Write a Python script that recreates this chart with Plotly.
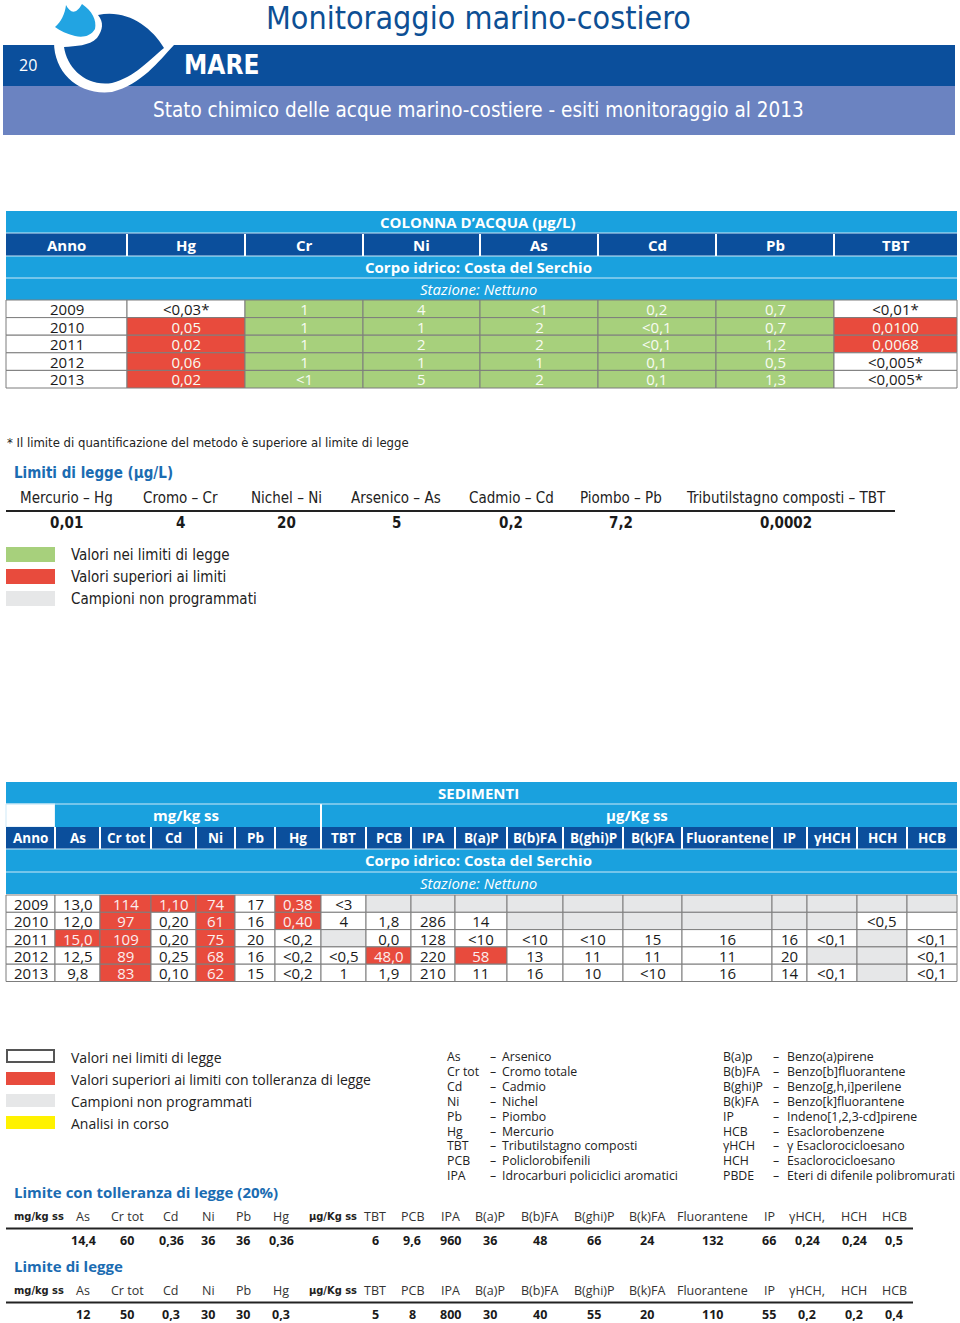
import plotly.graph_objects as go

# ---------------- DATA ----------------
page_number = "20"
page_title = "Monitoraggio marino-costiero"
section_name = "MARE"
subtitle = "Stato chimico delle acque marino-costiere - esiti monitoraggio al 2013"

years = ["2009", "2010", "2011", "2012", "2013"]

# Colonna d'acqua (µg/L)
water_params = ["Hg", "Cr", "Ni", "As", "Cd", "Pb", "TBT"]
water_Hg = ["<0,03*", "0,05", "0,02", "0,06", "0,02"]
water_Cr = ["1", "1", "1", "1", "<1"]
water_Ni = ["4", "1", "2", "1", "5"]
water_As = ["<1", "2", "2", "1", "2"]
water_Cd = ["0,2", "<0,1", "<0,1", "0,1", "0,1"]
water_Pb = ["0,7", "0,7", "1,2", "0,5", "1,3"]
water_TBT = ["<0,01*", "0,0100", "0,0068", "<0,005*", "<0,005*"]
# status: g = within limits, r = above limits, w = LOQ above limit (white)
water_Hg_status = ["w", "r", "r", "r", "r"]
water_Cr_status = ["g", "g", "g", "g", "g"]
water_Ni_status = ["g", "g", "g", "g", "g"]
water_As_status = ["g", "g", "g", "g", "g"]
water_Cd_status = ["g", "g", "g", "g", "g"]
water_Pb_status = ["g", "g", "g", "g", "g"]
water_TBT_status = ["w", "r", "r", "w", "w"]

water_limit_names = ["Mercurio – Hg", "Cromo – Cr", "Nichel – Ni", "Arsenico – As",
                     "Cadmio – Cd", "Piombo – Pb", "Tributilstagno composti – TBT"]
water_limit_values = ["0,01", "4", "20", "5", "0,2", "7,2", "0,0002"]

# Sedimenti
sed_params = ["As", "Cr tot", "Cd", "Ni", "Pb", "Hg", "TBT", "PCB", "IPA", "B(a)P", "B(b)FA",
              "B(ghi)P", "B(k)FA", "Fluorantene", "IP", "γHCH", "HCH", "HCB"]
sed_As = ["13,0", "12,0", "15,0", "12,5", "9,8"]
sed_Crtot = ["114", "97", "109", "89", "83"]
sed_Cd = ["1,10", "0,20", "0,20", "0,25", "0,10"]
sed_Ni = ["74", "61", "75", "68", "62"]
sed_Pb = ["17", "16", "20", "16", "15"]
sed_Hg = ["0,38", "0,40", "<0,2", "<0,2", "<0,2"]
sed_TBT = ["<3", "4", "", "<0,5", "1"]
sed_PCB = ["", "1,8", "0,0", "48,0", "1,9"]
sed_IPA = ["", "286", "128", "220", "210"]
sed_BaP = ["", "14", "<10", "58", "11"]
sed_BbFA = ["", "", "<10", "13", "16"]
sed_BghiP = ["", "", "<10", "11", "10"]
sed_BkFA = ["", "", "15", "11", "<10"]
sed_Fluorantene = ["", "", "16", "11", "16"]
sed_IP = ["", "", "16", "20", "14"]
sed_gHCH = ["", "", "<0,1", "", "<0,1"]
sed_HCH = ["", "<0,5", "", "", ""]
sed_HCB = ["", "", "<0,1", "<0,1", "<0,1"]
# status: w = within limits, r = above limits with tolerance, n = not programmed
sed_As_status = ["w", "w", "r", "w", "w"]
sed_Crtot_status = ["r", "r", "r", "r", "r"]
sed_Cd_status = ["r", "w", "w", "w", "w"]
sed_Ni_status = ["r", "r", "r", "r", "r"]
sed_Pb_status = ["w", "w", "w", "w", "w"]
sed_Hg_status = ["r", "r", "w", "w", "w"]
sed_TBT_status = ["w", "w", "n", "w", "w"]
sed_PCB_status = ["n", "w", "w", "r", "w"]
sed_IPA_status = ["n", "w", "w", "w", "w"]
sed_BaP_status = ["n", "w", "w", "r", "w"]
sed_BbFA_status = ["n", "n", "w", "w", "w"]
sed_BghiP_status = ["n", "n", "w", "w", "w"]
sed_BkFA_status = ["n", "n", "w", "w", "w"]
sed_Fluorantene_status = ["n", "n", "w", "w", "w"]
sed_IP_status = ["n", "n", "w", "w", "w"]
sed_gHCH_status = ["n", "n", "w", "n", "w"]
sed_HCH_status = ["n", "w", "n", "n", "n"]
sed_HCB_status = ["n", "w", "w", "w", "w"]

abbr_left = ["As", "Cr tot", "Cd", "Ni", "Pb", "Hg", "TBT", "PCB", "IPA"]
abbr_left_names = ["Arsenico", "Cromo totale", "Cadmio", "Nichel", "Piombo", "Mercurio",
                   "Tributilstagno composti", "Policlorobifenili", "Idrocarburi policiclici aromatici"]
abbr_right = ["B(a)p", "B(b)FA", "B(ghi)P", "B(k)FA", "IP", "HCB", "γHCH", "HCH", "PBDE"]
abbr_right_names = ["Benzo(a)pirene", "Benzo[b]fluorantene", "Benzo[g,h,i]perilene",
                    "Benzo[k]fluorantene", "Indeno[1,2,3-cd]pirene", "Esaclorobenzene",
                    "γ Esaclorocicloesano", "Esaclorocicloesano", "Eteri di difenile polibromurati"]

lim_mg_params = ["As", "Cr tot", "Cd", "Ni", "Pb", "Hg"]
lim_ug_params = ["TBT", "PCB", "IPA", "B(a)P", "B(b)FA", "B(ghi)P", "B(k)FA", "Fluorantene",
                 "IP", "γHCH,", "HCH", "HCB"]
lim_tol_mg = ["14,4", "60", "0,36", "36", "36", "0,36"]
lim_tol_ug = ["6", "9,6", "960", "36", "48", "66", "24", "132", "66", "0,24", "0,24", "0,5"]
lim_mg = ["12", "50", "0,3", "30", "30", "0,3"]
lim_ug = ["5", "8", "800", "30", "40", "55", "20", "110", "55", "0,2", "0,2", "0,4"]

# ---------------- STYLE ----------------
DARK = "#0b4f9c"
PERI = "#6b83c1"
CYAN = "#1aa1de"
GREEN = "#a7d07c"
RED = "#e84b3d"
GRAY = "#e6e7e8"
YELLOW = "#fff200"
TITLEBLUE = "#0d4f94"
SUBBLUE = "#1b6cb2"
BORDER = "#7d7d7d"
TXT = "#1a1a1a"
LIGHT = "#f7fbf2"
OPEN = "Open Sans, sans-serif"
COND = "Liberation Sans Narrow, DejaVu Sans Condensed, Open Sans, sans-serif"

fig = go.Figure()
fig.add_trace(go.Scatter(x=[0, 960], y=[0, 1323], mode="markers",
                         marker=dict(opacity=0), hoverinfo="skip"))
shapes = []
annots = []


def rect(x0, y0, x1, y1, fill, line=None, lw=1):
    shapes.append(dict(type="rect", xref="x", yref="y", x0=x0, y0=y0, x1=x1, y1=y1,
                       fillcolor=fill, line=dict(color=line or fill, width=lw if line else 0),
                       layer="below"))


def hline(x0, x1, y, color, lw):
    shapes.append(dict(type="line", xref="x", yref="y", x0=x0, x1=x1, y0=y, y1=y,
                       line=dict(color=color, width=lw), layer="above"))


def vline(x, y0, y1, color, lw):
    shapes.append(dict(type="line", xref="x", yref="y", x0=x, x1=x, y0=y0, y1=y1,
                       line=dict(color=color, width=lw), layer="above"))


def esc(s):
    return s.replace("<", "&lt;")


def txt(x, y, s, size, color=TXT, family=OPEN, bold=False, italic=False, anchor="center",
        raw=False, align="left"):
    if not raw:
        s = esc(s)
    if bold:
        s = "<b>" + s + "</b>"
    if italic:
        s = "<i>" + s + "</i>"
    annots.append(dict(x=x, y=y, xref="x", yref="y", text=s, showarrow=False,
                       xanchor=anchor, yanchor="middle", borderpad=0, align=align,
                       font=dict(size=size, color=color, family=family)))


def column_block(x, y_mid, values, colors, glyph_size, pitch):
    """One text block per table column: line pitch = pitch, glyph size = glyph_size."""
    lines = []
    for v, c in zip(values, colors):
        content = esc(v) if v else "\u00a0"
        lines.append('<span style="font-size:%spx;color:%s">%s</span>' % (glyph_size, c, content))
    txt(x, y_mid, "<br>".join(lines), pitch / 1.3, TXT, OPEN, raw=True, align="center")


# ---------------- HEADER ----------------
rect(3, 45, 955, 86, DARK)
rect(3, 86, 955, 135, PERI)
# logo
shapes.append(dict(type="path", xref="x", yref="y",
                   path="M 92,10 C 128,2 160,22 174,45 C 158,62 142,84 112,92 C 80,96 54,74 54,42 "
                        "C 62,40 72,40 82,40 C 92,32 96,20 92,10 Z",
                   fillcolor="white", line=dict(width=0)))
shapes.append(dict(type="path", xref="x", yref="y",
                   path="M 98,15 C 126,9 151,26 164,48 C 149,60 135,77 112,83 C 86,87 67,68 64,47 "
                        "C 76,46 89,46 97,38 C 103,30 104,22 98,15 Z",
                   fillcolor=DARK, line=dict(width=0)))
shapes.append(dict(type="path", xref="x", yref="y",
                   path="M 55,27 C 61,22 65,14 66,5 C 70,13 76,15 82,4 C 92,11 97,20 95,29 "
                        "C 91,36 83,38 75,36 C 67,34 60,31 55,27 Z",
                   fillcolor="#22a4e2", line=dict(width=0)))
txt(28, 65, page_number, 16, "white", OPEN)
txt(183, 65, section_name, 26, "white", COND, bold=True, anchor="left")
txt(478, 18, page_title, 32, TITLEBLUE, COND)
txt(478, 110, subtitle, 20.5, "white", COND)

# ---------------- WATER TABLE ----------------
w_edges = [6, 127, 245, 363, 480, 598, 716, 834, 957]
rect(6, 211, 957, 233, CYAN)
rect(6, 233, 957, 256, DARK)
rect(6, 256, 957, 300, CYAN)
hline(6, 957, 233, "#cfe9f7", 1)
hline(6, 957, 256, "#cfe9f7", 1)
hline(6, 957, 278, "#cfe9f7", 1)
txt(478, 222, "COLONNA D’ACQUA (µg/L)", 15, "white", OPEN, bold=True)
hdrs = ["Anno"] + water_params
for i, h in enumerate(hdrs):
    txt((w_edges[i] + w_edges[i + 1]) / 2, 245, h, 15, "white", OPEN, bold=True)
    if i > 0:
        vline(w_edges[i], 234, 256, "white", 2)
txt(478, 267, "Corpo idrico: Costa del Serchio", 15, "white", OPEN, bold=True)
txt(478, 289, "Stazione: Nettuno", 15, "white", OPEN, italic=True)

water_vals = [water_Hg, water_Cr, water_Ni, water_As, water_Cd, water_Pb, water_TBT]
water_stat = [water_Hg_status, water_Cr_status, water_Ni_status, water_As_status,
              water_Cd_status, water_Pb_status, water_TBT_status]
rh = 17.6
y0 = 300
fillmap = {"g": GREEN, "r": RED, "w": "white", "n": GRAY}
n_rows = len(years)
w_mid = y0 + n_rows * rh / 2
for r in range(n_rows):
    ya, yb = y0 + r * rh, y0 + (r + 1) * rh
    rect(w_edges[0], ya, w_edges[1], yb, "white", BORDER, 1)
    for c in range(len(water_params)):
        rect(w_edges[c + 1], ya, w_edges[c + 2], yb, fillmap[water_stat[c][r]], BORDER, 1)
column_block((w_edges[0] + w_edges[1]) / 2, w_mid, years, [TXT] * n_rows, 15, rh)
for c in range(len(water_params)):
    cols = [TXT if s == "w" else LIGHT for s in water_stat[c]]
    column_block((w_edges[c + 1] + w_edges[c + 2]) / 2, w_mid, water_vals[c], cols, 15, rh)

txt(6, 442, "* Il limite di quantificazione del metodo è superiore al limite di legge", 13, "#222", COND, anchor="left")
txt(13, 473, "Limiti di legge (µg/L)", 15, SUBBLUE, COND, bold=True, anchor="left")
wl_x = [66, 180, 286, 396, 511, 621, 786]
for i, n in enumerate(water_limit_names):
    txt(wl_x[i], 498, n, 15, "#222", COND)
    txt(wl_x[i], 523, water_limit_values[i], 15, TXT, COND, bold=True)
hline(6, 895, 511, "#222", 2)

leg1 = [(GREEN, "Valori nei limiti di legge"), (RED, "Valori superiori ai limiti"),
        (GRAY, "Campioni non programmati")]
for i, (c, t) in enumerate(leg1):
    yy = 547 + i * 22
    rect(6, yy, 55, yy + 15, c)
    txt(70, yy + 8, t, 15, "#222", COND, anchor="left")

# ---------------- SEDIMENT TABLE ----------------
s_edges = [6, 55, 100, 151, 196, 235, 275, 321, 366, 411, 455, 507, 563, 623, 682, 772, 807,
           857, 907, 957]
rect(6, 782, 957, 804, CYAN)
txt(478, 793, "SEDIMENTI", 15, "white", OPEN, bold=True)
rect(6, 804, 55, 827, "white", "#cfe9f7", 1)
rect(55, 804, 321, 827, CYAN)
rect(321, 804, 957, 827, CYAN)
vline(321, 804, 849, "white", 2)
hline(6, 957, 804, "#cfe9f7", 1)
txt(186, 815, "mg/kg ss", 15, "white", OPEN, bold=True)
txt(637, 815, "µg/Kg ss", 15, "white", OPEN, bold=True)
rect(6, 827, 957, 849, DARK)
shdr = ["Anno"] + sed_params
for i, h in enumerate(shdr):
    txt((s_edges[i] + s_edges[i + 1]) / 2, 838, h, 13.5, "white", OPEN, bold=True)
    if i > 0:
        vline(s_edges[i], 827, 849, "white", 2)
rect(6, 849, 957, 894, CYAN)
hline(6, 957, 849, "#cfe9f7", 1)
hline(6, 957, 872, "#cfe9f7", 1)
txt(478, 860, "Corpo idrico: Costa del Serchio", 15, "white", OPEN, bold=True)
txt(478, 883, "Stazione: Nettuno", 15, "white", OPEN, italic=True)

sed_vals = [sed_As, sed_Crtot, sed_Cd, sed_Ni, sed_Pb, sed_Hg, sed_TBT, sed_PCB, sed_IPA,
            sed_BaP, sed_BbFA, sed_BghiP, sed_BkFA, sed_Fluorantene, sed_IP, sed_gHCH,
            sed_HCH, sed_HCB]
sed_stat = [sed_As_status, sed_Crtot_status, sed_Cd_status, sed_Ni_status, sed_Pb_status,
            sed_Hg_status, sed_TBT_status, sed_PCB_status, sed_IPA_status, sed_BaP_status,
            sed_BbFA_status, sed_BghiP_status, sed_BkFA_status, sed_Fluorantene_status,
            sed_IP_status, sed_gHCH_status, sed_HCH_status, sed_HCB_status]
srh = 17.3
sy0 = 895
s_mid = sy0 + n_rows * srh / 2
for r in range(n_rows):
    ya, yb = sy0 + r * srh, sy0 + (r + 1) * srh
    rect(s_edges[0], ya, s_edges[1], yb, "white", BORDER, 1)
    for c in range(len(sed_params)):
        rect(s_edges[c + 1], ya, s_edges[c + 2], yb, fillmap[sed_stat[c][r]], BORDER, 1)
column_block((s_edges[0] + s_edges[1]) / 2, s_mid, years, [TXT] * n_rows, 15, srh)
for c in range(len(sed_params)):
    cols = ["#fbeeee" if s == "r" else TXT for s in sed_stat[c]]
    column_block((s_edges[c + 1] + s_edges[c + 2]) / 2, s_mid, sed_vals[c], cols, 15, srh)

# ---------------- LEGEND 2 ----------------
leg2 = [("white", "Valori nei limiti di legge"),
        (RED, "Valori superiori ai limiti con tolleranza di legge"),
        (GRAY, "Campioni non programmati"), (YELLOW, "Analisi in corso")]
for i, (c, t) in enumerate(leg2):
    yy = 1050 + i * 22
    if c == "white":
        rect(7, yy, 54, yy + 12, "white", "#555", 2)
    else:
        rect(6, yy, 55, yy + 13, c)
    txt(70, yy + 7, t, 14, "#222", OPEN, anchor="left")

# abbreviation lists (one multi-line text block per column)
ab_y = 1116
ab_pitch = 14.9
ab_glyph = 12.3
ab_cols = [(446, abbr_left), (489, ["–"] * len(abbr_left)), (501, abbr_left_names),
           (722, abbr_right), (772, ["–"] * len(abbr_right)), (786, abbr_right_names)]
for ax, items in ab_cols:
    body = "<br>".join('<span style="font-size:%spx">%s</span>' % (ab_glyph, esc(s)) for s in items)
    txt(ax, ab_y, body, ab_pitch / 1.3, "#222", OPEN, anchor="left", raw=True)

# ---------------- SEDIMENT LIMITS ----------------
mg_x = [83, 127, 171, 208, 243, 281]
ug_x = [375, 412, 450, 490, 540, 594, 647, 712, 769, 807, 854, 894]


def limit_block(title, ytitle, vals_mg, vals_ug):
    txt(13, ytitle, title, 15, SUBBLUE, OPEN, bold=True, anchor="left")
    yh = ytitle + 24
    txt(13, yh, "mg/kg ss", 11, "#222", COND, bold=True, anchor="left")
    txt(308, yh, "µg/Kg ss", 11, "#222", COND, bold=True, anchor="left")
    for i, p in enumerate(lim_mg_params):
        txt(mg_x[i], yh, p, 12.5, "#333", OPEN)
        txt(mg_x[i], yh + 24, vals_mg[i], 12.5, TXT, OPEN, bold=True)
    for i, p in enumerate(lim_ug_params):
        txt(ug_x[i], yh, p, 12.5, "#333", OPEN)
        txt(ug_x[i], yh + 24, vals_ug[i], 12.5, TXT, OPEN, bold=True)
    hline(6, 913, yh + 12.5, "#222", 2)


limit_block("Limite con tolleranza di legge (20%)", 1192, lim_tol_mg, lim_tol_ug)
limit_block("Limite di legge", 1266, lim_mg, lim_ug)

fig.update_layout(
    width=960, height=1323, margin=dict(l=0, r=0, t=0, b=0),
    paper_bgcolor="white", plot_bgcolor="white", showlegend=False,
    xaxis=dict(range=[0, 960], visible=False, fixedrange=True),
    yaxis=dict(range=[1323, 0], visible=False, fixedrange=True),
    shapes=shapes, annotations=annots,
)
fig.write_html("out.html", config={"displayModeBar": False},
               post_script="document.body.style.margin='0';document.body.style.padding='0';"
                           "document.body.style.overflow='hidden';")
